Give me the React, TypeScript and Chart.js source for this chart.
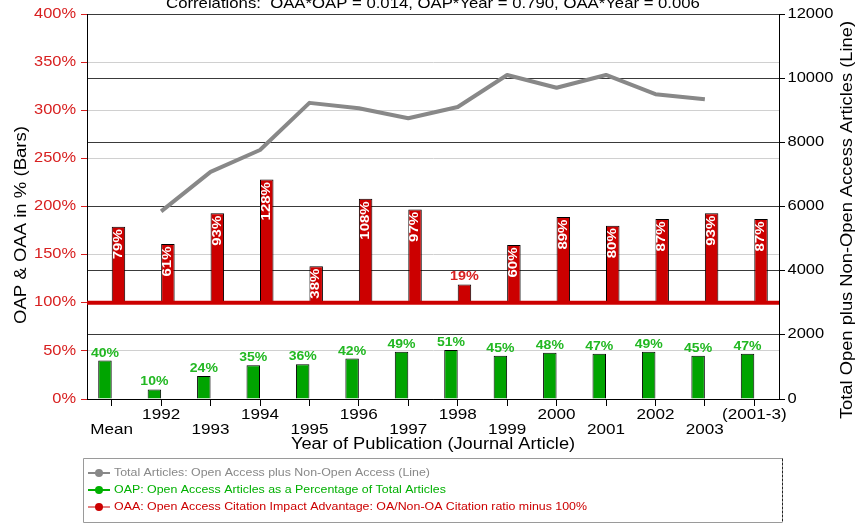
import React, { useEffect, useRef } from 'react';
import { Chart, registerables } from 'chart.js';

Chart.register(...registerables);

// ---- data ----
const categories = ['Mean', '1992', '1993', '1994', '1995', '1996', '1997', '1998', '1999', '2000', '2001', '2002', '2003', '(2001-3)'];
// OAP: open access articles as % of total
const oapPercent = [40, 10, 24, 35, 36, 42, 49, 51, 45, 48, 47, 49, 45, 47];
// OAA: citation advantage, drawn as bars rising from the 100% line
const oaaPercent = [79, 61, 93, 128, 38, 108, 97, 19, 60, 89, 80, 87, 93, 87];
// total articles per year (right axis)
const totalArticles = [null, 5850, 7080, 7760, 9230, 9060, 8750, 9100, 10100, 9700, 10100, 9500, 9340, null];

const leftAxisMax = 400;
const leftAxisStep = 50;
const rightAxisMax = 12000;
const rightAxisStep = 2000;
const oaaBase = 100;

const titleText = 'Correlations:  OAA*OAP = 0.014, OAP*Year = 0.790, OAA*Year = 0.006';
const xTitle = 'Year of Publication (Journal Article)';
const leftTitle = 'OAP & OAA in % (Bars)';
const rightTitle = 'Total Open plus Non-Open Access Articles (Line)';
const legendLabels = [
  'Total Articles: Open Access plus Non-Open Access (Line)',
  'OAP: Open Access Articles as a Percentage of Total Articles',
  'OAA: Open Access Citation Impact Advantage: OA/Non-OA Citation ratio minus 100%',
];

const FONT = '"Liberation Sans", Arial, Helvetica, sans-serif';
const GRAY = '#888888';
const GREEN = '#00a400';
const GREEN_TEXT = '#22b822';
const RED = '#cc0000';
const RED_TEXT = '#d82020';

type TextOpts = {
  size: number;
  color: string;
  bold?: boolean;
  align?: CanvasTextAlign;
  baseline?: CanvasTextBaseline;
  stretch?: number;
  angle?: number;
};

function fontOf(o: TextOpts) {
  return `${o.bold ? 'bold ' : ''}${o.size}px ${FONT}`;
}

function drawText(ctx: CanvasRenderingContext2D, text: string, x: number, y: number, o: TextOpts) {
  ctx.save();
  ctx.translate(x, y);
  if (o.angle) ctx.rotate(o.angle);
  ctx.scale(o.stretch ?? 1, 1);
  ctx.font = fontOf(o);
  ctx.fillStyle = o.color;
  ctx.textAlign = o.align ?? 'left';
  ctx.textBaseline = o.baseline ?? 'alphabetic';
  ctx.fillText(text, 0, 0);
  ctx.restore();
}

function textLength(ctx: CanvasRenderingContext2D, text: string, o: TextOpts) {
  ctx.save();
  ctx.font = fontOf(o);
  const w = ctx.measureText(text).width * (o.stretch ?? 1);
  ctx.restore();
  return w;
}

const decorPlugin = {
  id: 'decor',
  afterDatasetsDraw(chart: any) {
    const { ctx, chartArea: a, scales } = chart;
    const yL = scales.y;

    // thick 100% reference line for the OAA bars
    const y100 = yL.getPixelForValue(oaaBase);
    ctx.save();
    ctx.strokeStyle = RED;
    ctx.lineWidth = 4;
    ctx.beginPath();
    ctx.moveTo(a.left, y100);
    ctx.lineTo(a.right, y100);
    ctx.stroke();
    ctx.restore();

    // OAP labels above the green bars
    const greenMeta = chart.getDatasetMeta(1);
    oapPercent.forEach((v, i) => {
      const el = greenMeta.data[i];
      const top = Math.min(el.y, el.base);
      drawText(ctx, `${v}%`, el.x, top - 4, { size: 12, bold: true, color: GREEN_TEXT, align: 'center', stretch: 1.17 });
    });

    // OAA labels: rotated inside the bar, or above it when the bar is short
    const redMeta = chart.getDatasetMeta(2);
    oaaPercent.forEach((v, i) => {
      const el = redMeta.data[i];
      const top = Math.min(el.y, el.base);
      const h = Math.abs(el.base - el.y);
      const inside: TextOpts = { size: 12, bold: true, color: '#ffffff', align: 'right', baseline: 'middle', stretch: 1.25, angle: -Math.PI / 2 };
      const label = `${v}%`;
      if (textLength(ctx, label, inside) + 4 <= h) {
        drawText(ctx, label, el.x, top + 2.5, inside);
      } else {
        drawText(ctx, label, el.x, top - 4.5, { size: 12, bold: true, color: RED_TEXT, align: 'center', stretch: 1.2 });
      }
    });
  },
  afterDraw(chart: any) {
    const { ctx, chartArea: a, scales } = chart;
    const { x, y, y1 } = scales;

    // left axis labels
    y.ticks.forEach((t: any) => {
      drawText(ctx, `${t.value}%`, a.left - 11, y.getPixelForValue(t.value) - 0.5, {
        size: 15, color: RED_TEXT, align: 'right', baseline: 'middle', stretch: 1.095,
      });
    });
    // right axis labels
    y1.ticks.forEach((t: any) => {
      drawText(ctx, `${t.value}`, a.right + 8.5, y1.getPixelForValue(t.value) - 0.5, {
        size: 15, color: '#000', align: 'left', baseline: 'middle', stretch: 1.1,
      });
    });
    // category labels in two staggered rows
    categories.forEach((c, i) => {
      const px = x.getPixelForTick(i);
      const rowY = i % 2 === 0 ? a.bottom + 34.5 : a.bottom + 19.5;
      drawText(ctx, c, px, rowY, { size: 15, color: '#000', align: 'center', stretch: 1.14 });
    });

    const midX = (a.left + a.right) / 2;
    drawText(ctx, titleText, midX, 7.5, { size: 15, color: '#000', align: 'center', stretch: 1.115 });
    drawText(ctx, xTitle, midX, a.bottom + 50, { size: 16, color: '#000', align: 'center', stretch: 1.14 });
    drawText(ctx, leftTitle, 22, 225, { size: 16, color: '#000', align: 'center', baseline: 'middle', stretch: 1.16, angle: -Math.PI / 2 });
    drawText(ctx, rightTitle, 848, 220, { size: 16, color: '#000', align: 'center', baseline: 'middle', stretch: 1.145, angle: -Math.PI / 2 });

    // legend box
    const bx = 83.5, by = 458.5, bw = 699, bh = 64;
    ctx.save();
    ctx.strokeStyle = '#9a9a9a';
    ctx.lineWidth = 1;
    ctx.beginPath();
    ctx.moveTo(bx + bw, by + bh);
    ctx.lineTo(bx, by + bh);
    ctx.lineTo(bx, by);
    ctx.lineTo(bx + bw, by);
    ctx.stroke();
    ctx.strokeStyle = '#222';
    ctx.setLineDash([3, 1]);
    ctx.beginPath();
    ctx.moveTo(bx + bw, by);
    ctx.lineTo(bx + bw, by + bh);
    ctx.stroke();
    ctx.restore();

    const colors = [GRAY, '#00b000', RED];
    const widths = [2, 2, 1];
    legendLabels.forEach((txt, i) => {
      const ry = 473 + i * 17;
      ctx.save();
      ctx.strokeStyle = colors[i];
      ctx.lineWidth = widths[i];
      ctx.beginPath();
      ctx.moveTo(88, ry);
      ctx.lineTo(110, ry);
      ctx.stroke();
      ctx.fillStyle = colors[i];
      ctx.beginPath();
      ctx.arc(99, ry, 4, 0, Math.PI * 2);
      ctx.fill();
      ctx.restore();
      drawText(ctx, txt, 114, ry, { size: 11.8, color: colors[i], align: 'left', baseline: 'middle', stretch: 1.05 });
    });
  },
};

export default function App() {
  const canvasRef = useRef<HTMLCanvasElement>(null);

  useEffect(() => {
    const canvas = canvasRef.current;
    if (!canvas) return;
    const chart = new Chart(canvas, {
      type: 'bar',
      data: {
        labels: categories,
        datasets: [
          {
            type: 'line',
            label: 'Total Articles',
            data: totalArticles,
            yAxisID: 'y1',
            borderColor: GRAY,
            borderWidth: 4,
            pointRadius: 0,
            tension: 0,
            spanGaps: false,
            borderJoinStyle: 'round',
          } as any,
          {
            type: 'bar',
            label: 'OAP',
            data: oapPercent,
            yAxisID: 'y',
            backgroundColor: GREEN,
            borderColor: '#000',
            borderWidth: 1,
            categoryPercentage: 0.546,
            barPercentage: 1,
          },
          {
            type: 'bar',
            label: 'OAA',
            data: oaaPercent.map((v) => [oaaBase, oaaBase + v]),
            yAxisID: 'y',
            backgroundColor: RED,
            borderColor: '#000',
            borderWidth: 1,
            categoryPercentage: 0.546,
            barPercentage: 1,
          } as any,
        ],
      },
      options: {
        responsive: false,
        animation: false,
        devicePixelRatio: 1,
        layout: { padding: { top: 14, left: 0, right: 0, bottom: 0 } },
        plugins: {
          legend: { display: false },
          title: { display: false },
          tooltip: { enabled: false },
        },
        scales: {
          x: {
            type: 'category',
            offset: true,
            ticks: { display: false },
            grid: { offset: false, drawOnChartArea: false, tickLength: 7, color: '#000' },
            border: { color: '#000' },
            afterFit: (s: any) => { s.height = 125; },
          },
          y: {
            position: 'left',
            min: 0,
            max: leftAxisMax,
            ticks: { display: false, stepSize: leftAxisStep },
            grid: {
              color: (c: any) => ([0, 100, 200, 400].includes(c.tick?.value) ? 'rgba(0,0,0,0)' : '#d0d0d0'),
              tickColor: RED_TEXT,
              tickLength: 6,
            },
            border: { color: '#000' },
            afterFit: (s: any) => { s.width = 87; },
          },
          y1: {
            position: 'right',
            min: 0,
            max: rightAxisMax,
            ticks: { display: false, stepSize: rightAxisStep },
            grid: { color: '#3a3a3a', tickColor: '#000', tickLength: 6 },
            border: { color: '#000' },
            afterFit: (s: any) => { s.width = 83; },
          },
        },
      } as any,
      plugins: [decorPlugin],
    });
    return () => chart.destroy();
  }, []);

  return (
    <div style={{ position: 'fixed', left: 0, top: 0, width: 862, height: 524, background: '#fff' }}>
      <canvas ref={canvasRef} width={862} height={524} style={{ display: 'block', width: 862, height: 524 }} />
    </div>
  );
}
